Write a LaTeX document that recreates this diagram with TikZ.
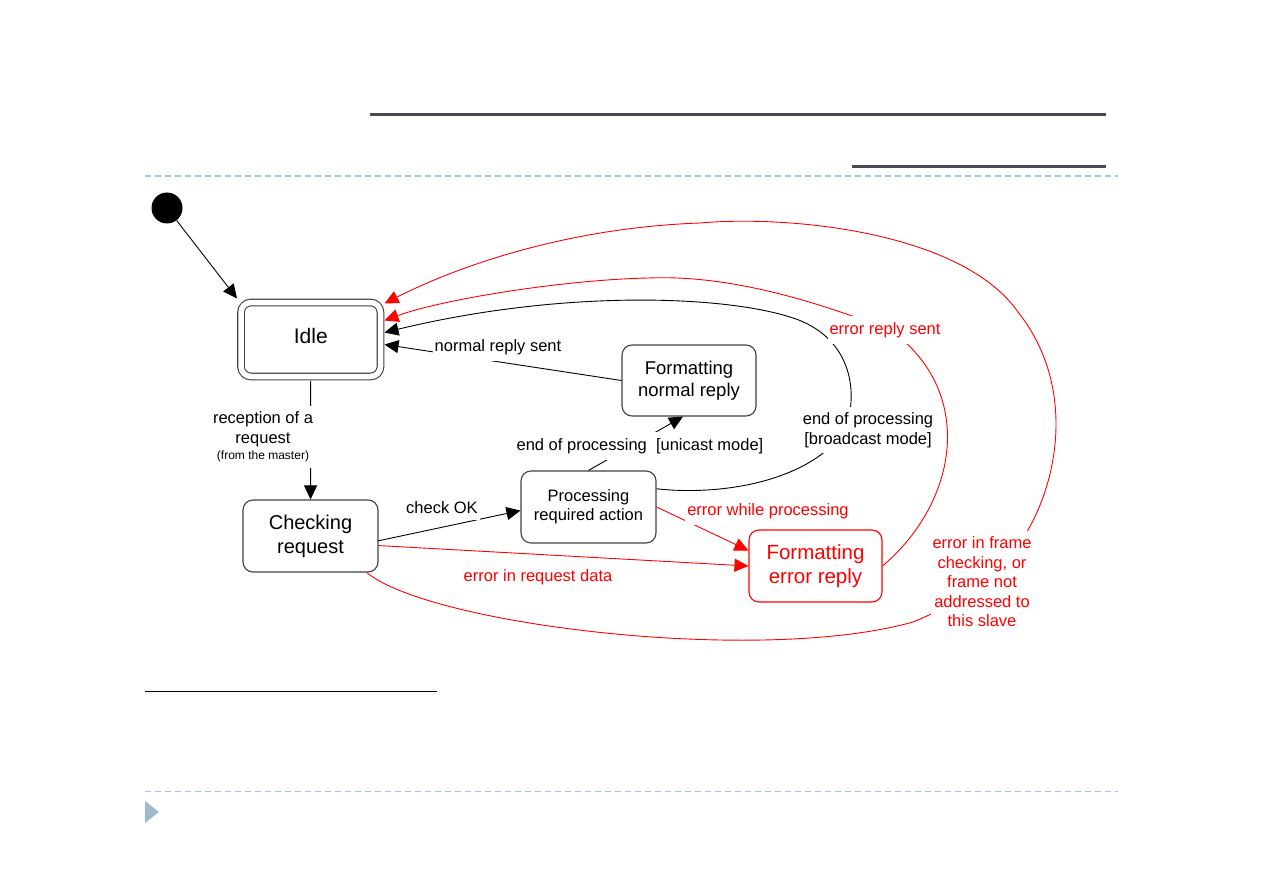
\documentclass[tikz,border=0pt]{standalone}
\usepackage{fontspec}
\setmainfont{Liberation Sans}
\usetikzlibrary{arrows.meta}

\definecolor{errred}{RGB}{255,0,0}
\definecolor{rulegray}{RGB}{74,72,82}
\definecolor{dashblue}{RGB}{168,196,216}
\definecolor{markblue}{RGB}{160,186,205}

\tikzset{
  state/.style={rectangle, rounded corners=10pt, draw=black!75, line width=1.1pt, align=center, inner sep=0pt},
  errstate/.style={state, draw=errred, text=errred},
  lbl/.style={fill=white, inner xsep=2pt, inner ysep=6pt, align=center, font=\fontsize{16.5}{19.5}\selectfont},
  errlbl/.style={lbl, text=errred},
  trans/.style={-{Triangle[length=14pt,width=13pt]}, line width=0.9pt},
  errtrans/.style={trans, color=errred}
}

\begin{document}
\begin{tikzpicture}[x=1pt, y=-1pt]
\useasboundingbox (0,0) rectangle (1263,893);

\draw[rulegray, line width=3pt] (370,114.5) -- (1106,114.5);
\draw[rulegray, line width=3pt] (852,166.5) -- (1106,166.5);
\draw[dashblue, line width=1.3pt, dash pattern=on 6pt off 4pt] (145,176) -- (1118,176);
\draw[line width=1.7pt] (145,691.5) -- (437,691.5);
\draw[dashblue, line width=1.3pt, dash pattern=on 6pt off 4pt] (145,791.5) -- (1118,791.5);
\fill[markblue] (145,801) -- (159,812) -- (145,823) -- cycle;

\node (init) [circle, fill=black, minimum size=31pt, inner sep=0pt] at (167,208) {};
\node (idle) [state, double, double distance=5.5pt, outer sep=4pt, minimum width=139.5pt, minimum height=74pt, text depth=8pt, font=\fontsize{21}{24}\selectfont] at (310.75,339.5) {Idle};
\node (checking) [state, minimum width=135pt, minimum height=72pt, font=\fontsize{20}{24}\selectfont] at (310.5,536) {Checking\\request};
\node (processing) [state, minimum width=135pt, minimum height=72pt, font=\fontsize{16.5}{19}\selectfont] at (588.5,507) {Processing\\required action};
\node (fnormal) [state, minimum width=134pt, minimum height=71pt, font=\fontsize{18.5}{22}\selectfont] at (689,380.5) {Formatting\\normal reply};
\node (ferror) [errstate, minimum width=133pt, minimum height=72pt, font=\fontsize{20.5}{24}\selectfont] at (815.5,566) {Formatting\\error reply};

\draw[trans] (init) -- (idle.north west);
\draw[trans] (idle) -- (checking);
\draw[trans] (checking.-4) -- (processing.183);
\draw[errtrans] (checking.-8) -- (ferror.west);
\draw[errtrans] (processing.east) -- (ferror.167);
\draw[trans] (fnormal.west) -- ([yshift=-5pt]idle.east);
\draw[trans] (processing.north) -- ([xshift=-6pt]fnormal.south);
\draw[trans] (processing.15) .. controls (720,496) and (810,482) .. (845,430)
  .. controls (860,390) and (850,335) .. (790,317)
  .. controls (720,295) and (560,290) .. ([yshift=7pt]idle.east);
\draw[errtrans] (ferror.east) .. controls (960,500) and (975,390) .. (890,330)
  .. controls (800,295) and (720,275) .. (648,278)
  .. controls (560,280) and (440,300) .. ([yshift=19pt]idle.east);
\draw[errtrans] (checking.-33) .. controls (430,625) and (760,665) .. (913,622)
  .. controls (990,590) and (1010,560) .. (1028,530)
  .. controls (1062,470) and (1072,380) .. (1018,312)
  .. controls (962,232) and (790,215) .. (700,223)
  .. controls (560,228) and (450,270) .. ([yshift=36pt]idle.east);

\node (lblrecv) [lbl] at (263,437) {reception of a\\request\\[-3pt]{\fontsize{12}{13}\selectfont (from the master)}};
\node (lblok) [lbl] at (442,508) {check OK};
\node (lblreq) [errlbl] at (538,577) {error in request data};
\node (lblwhile) [errlbl] at (768,511) {error while processing};
\node (lblnormal) [lbl] at (498,347) {normal reply sent};
\node (lblunicast) [lbl] at (640,446) {end of processing\ \ [unicast mode]};
\node (lblbcast) [lbl] at (868,430) {end of processing\\{[broadcast mode]}};
\node (lblerrsent) [errlbl] at (885,330) {error reply sent};
\node (lblframe) [errlbl] at (982,582) {error in frame\\checking, or\\frame not\\addressed to\\this slave};

\end{tikzpicture}
\end{document}
